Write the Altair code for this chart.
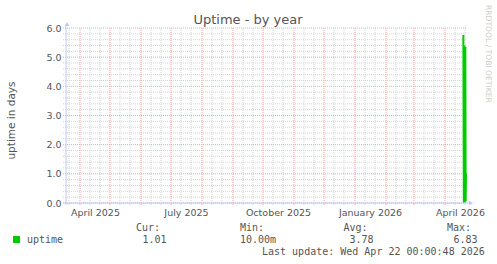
import altair as alt
import pandas as pd

# ---------------- data ----------------
x_start = "2025-03-18T00:00:48Z"
x_end = "2026-04-22T00:00:48Z"

sample_times = ["2026-04-19T08:00:00Z", "2026-04-19T20:00:00Z", "2026-04-20T08:00:00Z",
                "2026-04-20T20:00:00Z", "2026-04-21T08:00:00Z", "2026-04-21T16:00:00Z",
                "2026-04-22T00:00:48Z"]
uptime_days = [5.76, 0.01, 5.40, 0.02, 5.35, 0.05, 1.01]

month_starts = ["2025-04-01", "2025-05-01", "2025-06-01", "2025-07-01", "2025-08-01",
                "2025-09-01", "2025-10-01", "2025-11-01", "2025-12-01", "2026-01-01",
                "2026-02-01", "2026-03-01", "2026-04-01"]
minor_days = ["2025-03-21", "2025-04-11", "2025-04-21", "2025-05-11", "2025-05-21",
              "2025-06-11", "2025-06-21", "2025-07-11", "2025-07-21", "2025-08-11",
              "2025-08-21", "2025-09-11", "2025-09-21", "2025-10-11", "2025-10-21",
              "2025-11-11", "2025-11-21", "2025-12-11", "2025-12-21", "2026-01-11",
              "2026-01-21", "2026-02-11", "2026-02-21", "2026-03-11", "2026-03-21",
              "2026-04-11", "2026-04-21"]
label_days = ["2025-04-16", "2025-07-16", "2025-10-16", "2026-01-16", "2026-04-16"]

y_major = [0, 1, 2, 3, 4, 5, 6]
y_minor = [0.2, 0.4, 0.6, 0.8, 1.2, 1.4, 1.6, 1.8, 2.2, 2.4, 2.6, 2.8,
           3.2, 3.4, 3.6, 3.8, 4.2, 4.4, 4.6, 4.8, 5.2, 5.4, 5.6, 5.8]

title_text = "Uptime - by year"
y_title = "uptime in days"
watermark = "RRDTOOL / TOBI OETIKER"
series_name = "uptime"
stat_labels = ["Cur:", "Min:", "Avg:", "Max:"]
stat_values = ["1.01", "10.00m", "3.78", "6.83"]
last_update = "Last update: Wed Apr 22 00:00:48 2026"

# ---------------- styling ----------------
W, H = 400, 175
L, T = 66, 28
GREEN = "#00cc00"
MAJOR = "#f0a8a8"
MINOR = "#d4d4d4"
AXISC = "#c4c4f4"
TXT = "#555555"
SANS = "DejaVu Sans"
MONO = "DejaVu Sans Mono"


def ms(s):
    return int(pd.Timestamp(s).timestamp() * 1000)


xscale = alt.Scale(type="utc", domain=[ms(x_start), ms(x_end)])
yscale = alt.Scale(domain=[0, 6], nice=False, zero=False)

x_axis = alt.Axis(values=[ms(d + "T00:00:00Z") for d in label_days],
                  labelExpr="utcFormat(datum.value, '%B %Y')", title=None,
                  grid=False, domain=False, ticks=False, tickSize=0,
                  labelFont=SANS, labelFontSize=9.5, labelColor=TXT,
                  labelBaseline="alphabetic", labelPadding=12,
                  labelOverlap=False, labelBound=False, labelFlush=False)
y_axis = alt.Axis(values=y_major, format=".1f", title=y_title,
                  grid=False, domain=False, ticks=False, tickSize=0,
                  labelFont=SANS, labelFontSize=9.5, labelColor=TXT,
                  labelPadding=5, labelBaseline="middle",
                  titleFont=SANS, titleFontSize=10.5, titleColor=TXT,
                  titleFontWeight="normal", titleAngle=270,
                  titleX=-55, titleY=92, titleAlign="center",
                  titleBaseline="middle")


def X(field):
    return alt.X(field, type="temporal", scale=xscale, axis=x_axis)


def Y(field):
    return alt.Y(field, type="quantitative", scale=yscale, axis=y_axis)


def df(col, vals):
    return pd.DataFrame({col: vals})


def ts(days):
    return [d + "T00:00:00Z" for d in days]


minor_v = alt.Chart(df("t", ts(minor_days))).mark_rule(
    color=MINOR, strokeDash=[1, 1], strokeWidth=1).encode(
    x=X("t"), y=alt.value(0), y2=alt.value(H + 3))
major_v = alt.Chart(df("t", ts(month_starts))).mark_rule(
    color=MAJOR, strokeDash=[1, 1], strokeWidth=1).encode(
    x=X("t"), y=alt.value(0), y2=alt.value(H + 3))
minor_h = alt.Chart(df("v", y_minor)).mark_rule(
    color=MINOR, strokeDash=[1, 1], strokeWidth=1).encode(
    y=Y("v"), x=alt.value(-3), x2=alt.value(W))
major_h = alt.Chart(df("v", y_major)).mark_rule(
    color=MAJOR, strokeDash=[1, 1], strokeWidth=1).encode(
    y=Y("v"), x=alt.value(-3), x2=alt.value(W))

axis_df = df("k", [0])
y_axis_line = alt.Chart(axis_df).mark_rule(color=AXISC, strokeWidth=1).encode(
    x=alt.value(0), y=alt.value(-3), y2=alt.value(H + 2))
x_axis_line = alt.Chart(axis_df).mark_rule(color=AXISC, strokeWidth=1).encode(
    y=alt.value(H), x=alt.value(-3), x2=alt.value(W + 3))
up_arrow = alt.Chart(axis_df).mark_point(
    shape="triangle-up", filled=True, color=AXISC, size=22, opacity=1).encode(
    x=alt.value(1), y=alt.value(-4))
right_arrow = alt.Chart(axis_df).mark_point(
    shape="triangle-right", filled=True, color=AXISC, size=22, opacity=1).encode(
    x=alt.value(W + 5), y=alt.value(H))

line = alt.Chart(pd.DataFrame({"t": sample_times, "v": uptime_days})).mark_line(
    color=GREEN, strokeWidth=2).encode(x=X("t"), y=Y("v"))


def txt(s, x, y, size=10, font=MONO, color=TXT, align="left", angle=0,
        baseline="alphabetic"):
    return alt.Chart(df("s", [s])).mark_text(
        font=font, fontSize=size, color=color, align=align, angle=angle,
        baseline=baseline).encode(
        text="s:N", x=alt.value(x - L), y=alt.value(y - T))


texts = [
    txt(title_text, 248, 24, size=13, font=SANS, align="center"),
    txt(watermark, 488, 5, size=7.6, font=SANS, color="#cccccc", angle=90,
        baseline="middle"),
    txt(series_name, 27, 242.5),
    txt(last_update, 262, 254.5),
]
stat_label_x = [136, 240, 343.5, 447]
stat_value_x = [142.5, 240, 349.5, 453.5]
for lab, val, lx, vx in zip(stat_labels, stat_values, stat_label_x, stat_value_x):
    texts.append(txt(lab, lx, 231))
    texts.append(txt(val, vx, 242.5))

legend_box = alt.Chart(df("c", [GREEN])).mark_rect().encode(
    color=alt.Color("c:N", scale=None),
    x=alt.value(13 - L), x2=alt.value(20 - L),
    y=alt.value(236 - T), y2=alt.value(243 - T))

chart = alt.layer(
    minor_v, minor_h, major_v, major_h, line,
    y_axis_line, x_axis_line, up_arrow, right_arrow, legend_box, *texts
).properties(
    width=W, height=H,
    autosize=alt.AutoSizeParams(type="none"),
    padding={"left": L, "top": T, "right": 497 - L - W, "bottom": 264 - T - H},
    background="white",
).configure_view(stroke=None)

chart.save("out.html", embed_options={"renderer": "svg", "actions": False})
